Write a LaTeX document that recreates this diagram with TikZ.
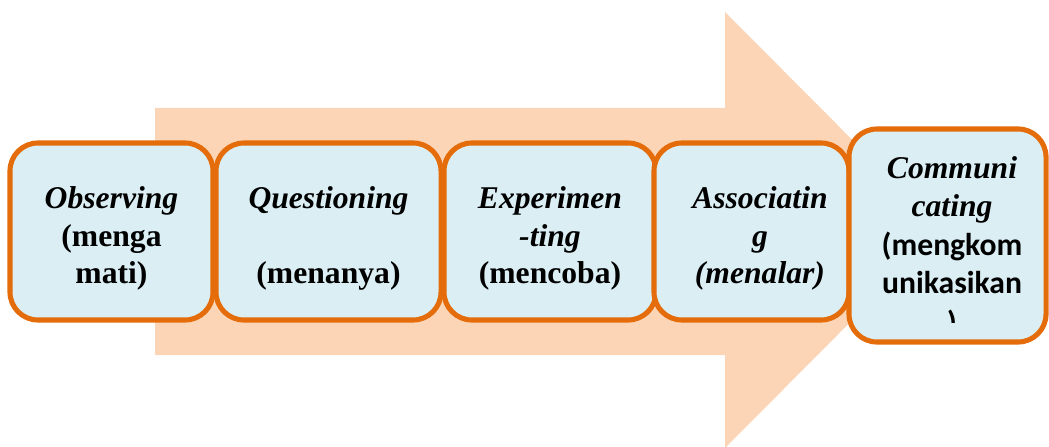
\documentclass[tikz,border=0pt]{standalone}
\usepackage{fontspec}
\setmainfont{Liberation Serif}
\newfontfamily\calibrifont{Carlito}
\usetikzlibrary{calc}

\definecolor{peach}{HTML}{FBD5B5}
\definecolor{paleblue}{HTML}{DAEEF3}
\definecolor{rust}{HTML}{E46C0A}

\begin{document}
\begin{tikzpicture}[x=0.025cm,y=-0.025cm,
    stage/.style={draw=rust,fill=paleblue,line width=3.6pt,rounded corners=0.7cm,
      minimum height=4.425cm,inner sep=0pt},
    stagetext/.style={align=center,inner sep=0pt,
      font=\fontsize{22.5}{26.5}\selectfont\bfseries}]
  \useasboundingbox (0,0) rectangle (1049,446);

  % big arrow behind
  \coordinate (A1) at (155,108);
  \coordinate (A2) at (725,108);
  \coordinate (A3) at (725,12);
  \coordinate (A4) at (942,230);
  \coordinate (A5) at (725,448);
  \coordinate (A6) at (725,355);
  \coordinate (A7) at (155,355);
  \path[fill=peach] (A1) -- (A2) -- (A3) -- (A4) -- (A5) -- (A6) -- (A7) -- cycle;

  % stages
  \node[stage,minimum width=5.075cm] (observe) at (111.5,231.5) {};
  \node[stage,minimum width=5.625cm] (question) at (328.5,231.5) {};
  \node[stage,minimum width=5.3cm] (experiment) at (550,231.5) {};
  \node[stage,minimum width=4.875cm] (associate) at (751.5,231.5) {};
  \node[stage,minimum width=4.925cm,minimum height=5.325cm] (communicate) at (947.5,235.5) {};

  \node[stagetext] (observe-t) at ([yshift=-5pt]observe.center)
    {\itshape Observing\\(menga\\mati)};
  \node[stagetext] (question-t) at ([yshift=-5pt]question.center)
    {\itshape Questioning\\ \\(menanya)};
  \node[stagetext] (experiment-t) at ([yshift=-5pt]experiment.center)
    {\itshape Experimen\\\itshape -ting\\(mencoba)};
  \node[stagetext] (associate-t) at ([xshift=6pt,yshift=-5pt]associate.center)
    {\itshape Associatin\\\itshape g\\\itshape (menalar)};

  \node[stagetext,anchor=base] (communicate-t) at (952,216)
    {\itshape Communi\\\itshape cating};
  \node[stagetext,font=\calibrifont\fontsize{22.5}{27}\selectfont\bfseries,anchor=base] (mengkom) at (952,293)
    {(mengkom\\unikasikan};
  \begin{scope}
    \clip (860,300) rectangle (1040,322);
    \node[font=\calibrifont\fontsize{22.5}{27}\selectfont\bfseries,anchor=base] (paren) at (952,333) {)};
  \end{scope}
\end{tikzpicture}
\end{document}
